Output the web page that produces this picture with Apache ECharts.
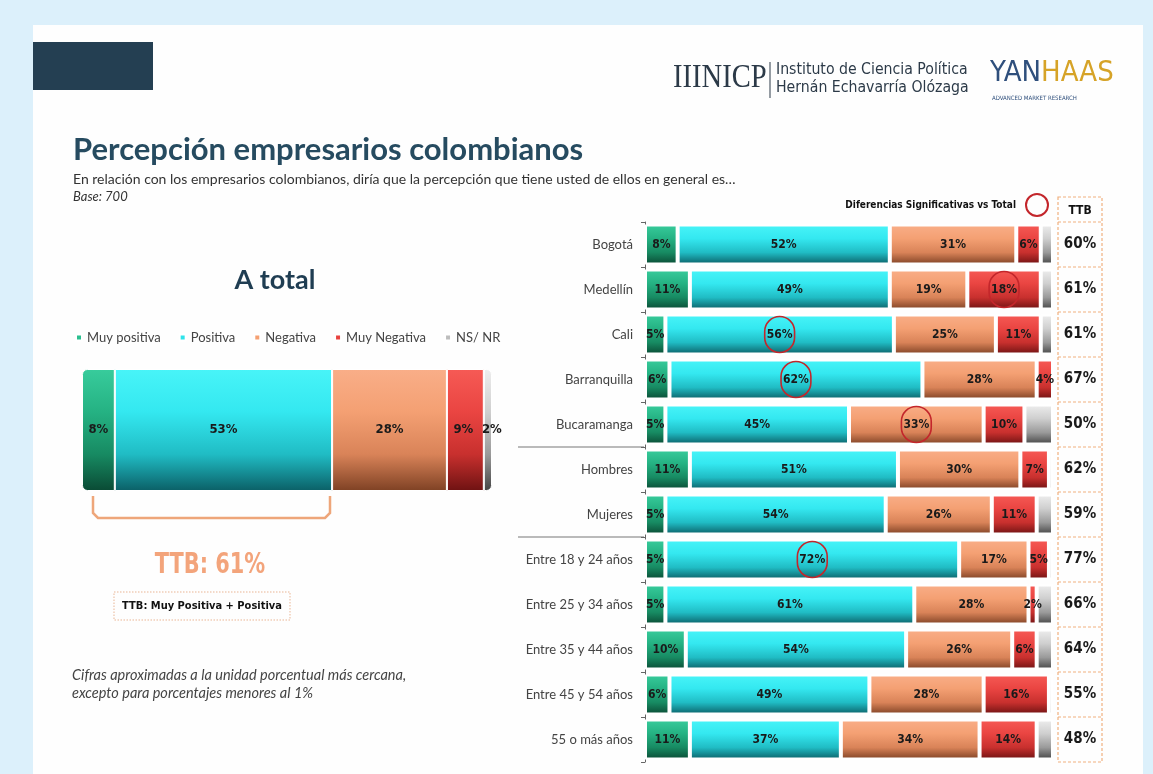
<!DOCTYPE html>
<html><head><meta charset="utf-8">
<script src="https://cdn.jsdelivr.net/npm/echarts@6/dist/echarts.min.js"></script>
<style>html,body{margin:0;padding:0;background:#dcf0fb;}#c{width:1153px;height:774px;}</style>
</head><body><div id="c"></div>
<script>
// ---- data ----
const seriesNames = ['Muy positiva', 'Positiva', 'Negativa', 'Muy Negativa', 'NS/ NR'];
const totalValues = [8, 53, 28, 9, 2];
const ttbTotal = 61;
const categories = ['Bogotá','Medellín','Cali','Barranquilla','Bucaramanga','Hombres','Mujeres','Entre 18 y 24 años','Entre 25 y 34 años','Entre 35 y 44 años','Entre 45 y 54 años','55 o más años'];
const muyPositiva = [8, 11, 5, 6, 5, 11, 5, 5, 5, 10, 6, 11];
const positiva    = [52, 49, 56, 62, 45, 51, 54, 72, 61, 54, 49, 37];
const negativa    = [31, 19, 25, 28, 33, 30, 26, 17, 28, 26, 28, 34];
const muyNegativa = [6, 18, 11, 4, 10, 7, 11, 5, 2, 6, 16, 14];
const nsnr        = [3, 3, 3, 0, 7, 1, 4, 1, 4, 4, 1, 4];
const ttb         = [60, 61, 61, 67, 50, 62, 59, 77, 66, 64, 55, 48];
// indices of significant differences vs total (red circles)
const sigPositiva = [2, 3, 7];
const sigNegativa = [4];
const sigMuyNegativa = [1];

// ---- style ----
const F = "Lato, 'Noto Sans', sans-serif";
const FN = "'Liberation Sans Narrow', 'DejaVu Sans Condensed', 'Roboto Condensed', sans-serif";
const G = (a, b, c, d) => new echarts.graphic.LinearGradient(0, 0, 0, 1, [
  {offset: 0, color: a}, {offset: 0.35, color: b}, {offset: 0.7, color: c}, {offset: 1, color: d}]);
const fills = [
  G('#38cc9c', '#25b283', '#178a62', '#0a4a34'),
  G('#48f4f8', '#34e8f0', '#20bcc4', '#0b5f66'),
  G('#f9ae88', '#f4a073', '#d98358', '#7e4124'),
  G('#f65a55', '#ea4542', '#c8302e', '#6e1212'),
  G('#eeeeee', '#cfcfcf', '#9a9a9a', '#444444')
];
const legendColors = ['#2bbf8f', '#2ee3ea', '#f5a072', '#e8423f', '#bdbdbd'];
const circle = {borderColor: '#c3262b', borderWidth: 1.6, borderRadius: 16, padding: [12, 2, 12, 2]};
const mark = (arr, sig) => arr.map((v, i) => sig.includes(i) ? {value: v, label: circle} : v);
const rightData = [muyPositiva, mark(positiva, sigPositiva), mark(negativa, sigNegativa), mark(muyNegativa, sigMuyNegativa), nsnr];

const chart = echarts.init(document.getElementById('c'));
const series = [];
seriesNames.forEach((n, k) => {
  series.push({
    name: n, type: 'bar', stack: 'total', xAxisIndex: 0, yAxisIndex: 0, barWidth: 122,
    itemStyle: {color: fills[k], borderColor: '#fff', borderWidth: 1,
      borderRadius: k === 0 ? [5, 0, 0, 5] : (k === 4 ? [0, 5, 5, 0] : 0)},
    label: {show: true, position: 'inside', formatter: '{c}%', color: '#1a1a1a', fontSize: 13, fontWeight: 'bold', fontFamily: FN,
      offset: k === 4 ? [4, 0] : (k === 3 ? [-2, 0] : [0, 0])},
    data: [totalValues[k]]
  });
  series.push({
    name: n, type: 'bar', stack: 'rows', xAxisIndex: 1, yAxisIndex: 1, barWidth: 40,
    itemStyle: {color: fills[k], borderColor: '#fff', borderWidth: 2},
    label: {show: k < 4, position: 'inside', formatter: '{c}%', color: '#1a1a1a', fontSize: 12, fontWeight: 'bold', fontFamily: FN},
    data: rightData[k]
  });
});

const gfx = [
  {type: 'rect', shape: {x: 33, y: 25, width: 1110, height: 760}, style: {fill: '#fefefe'}},
  {type: 'rect', shape: {x: 33, y: 42, width: 120, height: 48}, style: {fill: '#243f52'}},
  // logos
  {type: 'text', x: 673, y: 61, scaleX: 0.84, style: {text: 'IIINICP', font: "34px 'Liberation Serif', serif", fill: '#2c3a48'}},
  {type: 'line', shape: {x1: 770, y1: 62, x2: 770, y2: 98}, style: {stroke: '#2c3a48', lineWidth: 1}},
  {type: 'text', x: 776, y: 62, scaleX: 0.98, style: {text: 'Instituto de Ciencia Política', font: "16px " + FN, fill: '#2c3a48'}},
  {type: 'text', x: 776, y: 80, scaleX: 0.98, style: {text: 'Hernán Echavarría Olózaga', font: "16px " + FN, fill: '#2c3a48'}},
  {type: 'text', x: 990, y: 59, style: {text: '{a|YAN}{b|HAAS}', rich: {
    a: {fontSize: 29, fontFamily: FN, fill: '#2f4f7c'}, b: {fontSize: 29, fontFamily: FN, fill: '#d6a327'}}}},
  {type: 'text', x: 992, y: 95, style: {text: 'ADVANCED MARKET RESEARCH', font: "6px " + FN, fill: '#2f4f7c'}},
  // titles
  {type: 'text', x: 73, y: 134, style: {text: 'Percepción empresarios colombianos', font: "bold 31px " + F, fill: '#264b60'}},
  {type: 'text', x: 73, y: 172, style: {text: 'En relación con los empresarios colombianos, diría que la percepción que tiene usted de ellos en general es…', font: "14px " + F, fill: '#333'}},
  {type: 'text', x: 73, y: 190, style: {text: 'Base: 700', font: "italic 13px " + F, fill: '#333'}},
  {type: 'text', x: 275, y: 280, style: {text: 'A total', font: "bold 27px " + F, fill: '#1f3d52', textAlign: 'center', textVerticalAlign: 'middle'}},
  // bracket for TTB
  {type: 'polyline', shape: {points: [[93, 496], [93, 513], [98, 518], [325, 518], [330, 513], [330, 496]]}, style: {stroke: '#eea67a', lineWidth: 2.5, fill: null}},
  {type: 'text', x: 210, y: 565, scaleX: 0.8, style: {text: 'TTB: ' + ttbTotal + '%', font: "bold 29px " + FN, fill: '#f3a47b', textAlign: 'center', textVerticalAlign: 'middle'}},
  {type: 'rect', shape: {x: 114, y: 592, width: 176, height: 28}, style: {fill: null, stroke: '#e9b594', lineWidth: 1, lineDash: [1.5, 1.5]}},
  {type: 'text', x: 202, y: 606, style: {text: 'TTB: Muy Positiva + Positiva', font: "bold 11px " + FN, fill: '#111', textAlign: 'center', textVerticalAlign: 'middle'}},
  {type: 'text', x: 72, y: 668, style: {text: 'Cifras aproximadas a la unidad porcentual más cercana,', font: "italic 14.5px " + F, fill: '#444'}},
  {type: 'text', x: 72, y: 686, style: {text: 'excepto para porcentajes menores al 1%', font: "italic 14.5px " + F, fill: '#444'}},
  // group separators on the right chart
  {type: 'line', shape: {x1: 518, y1: 447, x2: 644, y2: 447}, style: {stroke: '#777', lineWidth: 1}},
  {type: 'line', shape: {x1: 518, y1: 537, x2: 644, y2: 537}, style: {stroke: '#777', lineWidth: 1}},
  // significance legend
  {type: 'text', x: 1016, y: 205, style: {text: 'Diferencias Significativas vs Total', font: "bold 10px " + FN, fill: '#111', textAlign: 'right', textVerticalAlign: 'middle'}},
  {type: 'circle', shape: {cx: 1037, cy: 205, r: 11}, style: {fill: null, stroke: '#c3262b', lineWidth: 2}},
  // TTB column
  {type: 'rect', shape: {x: 1058, y: 197, width: 44, height: 565}, style: {fill: null, stroke: '#f0b07e', lineWidth: 1.2, lineDash: [3, 2]}},
  {type: 'text', x: 1080, y: 211, style: {text: 'TTB', font: "bold 12px " + FN, fill: '#111', textAlign: 'center', textVerticalAlign: 'middle'}}
];
for (let k = 0; k < categories.length; k++) {
  gfx.push({type: 'line', shape: {x1: 1058, y1: 222 + 45 * k, x2: 1102, y2: 222 + 45 * k}, style: {stroke: '#f0b07e', lineWidth: 1.2, lineDash: [3, 2]}});
}

chart.setOption({
  backgroundColor: '#dcf0fb',
  animation: false,
  graphic: {elements: gfx},
  legend: {
    left: 70, top: 326, icon: 'rect', itemWidth: 6, itemHeight: 6, itemGap: 18,
    textStyle: {fontSize: 13, color: '#444', fontFamily: F},
    data: seriesNames.map((n, k) => ({name: n, itemStyle: {color: legendColors[k]}}))
  },
  grid: [
    {left: 82, right: 661, top: 369, height: 122},
    {left: 645, right: 100, top: 222, height: 540}
  ],
  xAxis: [
    {gridIndex: 0, type: 'value', min: 0, max: 100, show: false},
    {gridIndex: 1, type: 'value', min: 0, max: 100, show: false}
  ],
  yAxis: [
    {gridIndex: 0, type: 'category', data: ['A total'], show: false},
    {gridIndex: 1, type: 'category', data: categories, inverse: true,
      axisLine: {show: true, lineStyle: {color: '#666'}},
      axisTick: {show: true, length: 4, lineStyle: {color: '#666'}},
      axisLabel: {margin: 12, color: '#444', fontSize: 13, fontFamily: F}},
    {gridIndex: 1, type: 'category', data: ttb.map(v => v + '%'), inverse: true, position: 'right',
      axisLine: {show: false}, axisTick: {show: false},
      axisLabel: {margin: 27, align: 'center', color: '#1a1a1a', fontSize: 15, fontWeight: 'bold', fontFamily: FN}}
  ],
  series: series
});
</script></body></html>
